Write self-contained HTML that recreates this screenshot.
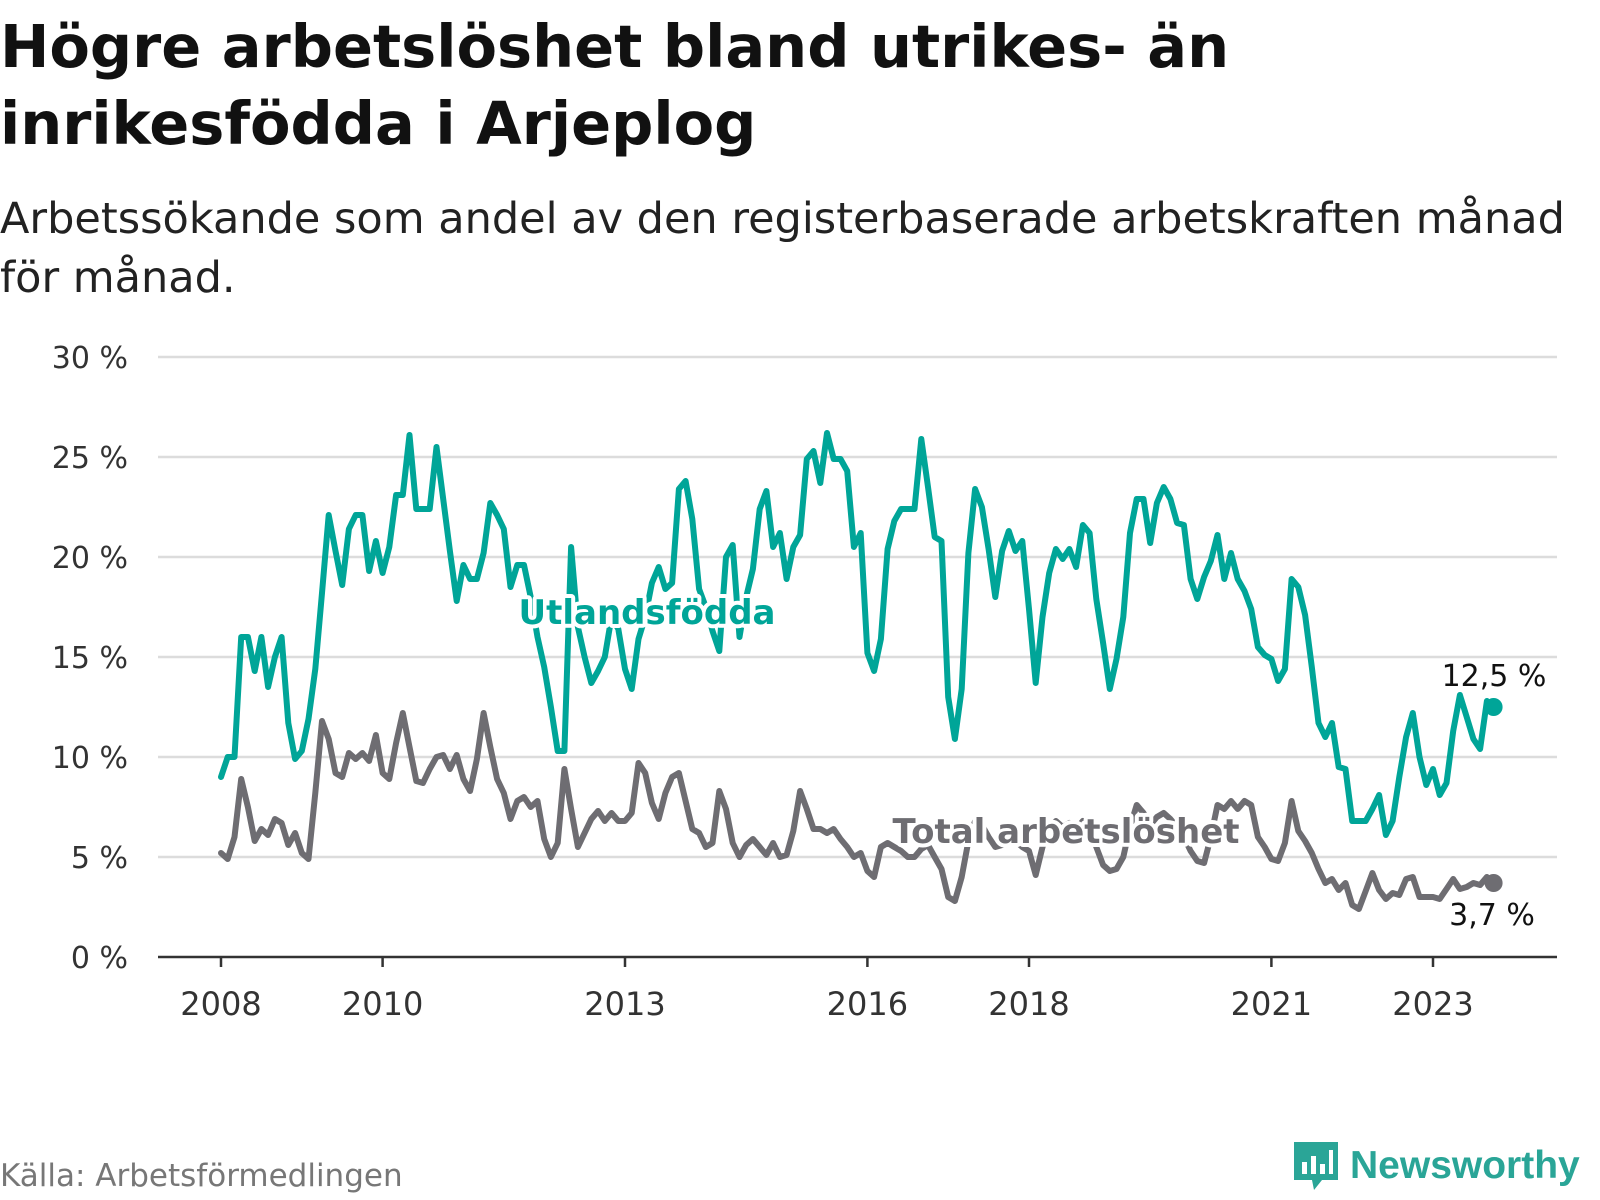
<!DOCTYPE html>
<html><head><meta charset="utf-8">
<style>
html,body{margin:0;padding:0;background:#fff;}
body{width:1600px;height:1200px;overflow:hidden;position:relative;font-family:"DejaVu Sans","Liberation Sans",sans-serif;}
.title{position:absolute;left:0;top:8px;font-size:59px;font-weight:bold;line-height:77px;color:#111;margin:0;}
.sub{position:absolute;left:0;top:190px;font-size:43px;line-height:59px;color:#222;margin:0;}
.src{position:absolute;left:0;top:1158px;font-size:31px;color:#777;}
.logo{position:absolute;left:1292px;top:1140px;display:flex;align-items:center;gap:10px;color:#2aa597;font-weight:bold;font-size:39px;font-family:"Liberation Sans",sans-serif;}
</style></head>
<body>
<h1 class="title">Högre arbetslöshet bland utrikes- än<br>inrikesfödda i Arjeplog</h1>
<p class="sub">Arbetssökande som andel av den registerbaserade arbetskraften månad<br>för månad.</p>
<svg id="chart" width="1600" height="1200" style="position:absolute;left:0;top:0" xmlns="http://www.w3.org/2000/svg"></svg>
<div class="src">Källa: Arbetsförmedlingen</div>
<div class="logo">
<svg width="48" height="52" viewBox="0 0 48 52"><path d="M2 2h44v38H30l-8 10-2-10H2z" fill="#2aa597"/><rect x="10" y="22" width="5" height="12" fill="#fff"/><rect x="19" y="16" width="5" height="18" fill="#fff"/><rect x="28" y="24" width="5" height="10" fill="#fff"/><rect x="37" y="10" width="4" height="24" fill="#fff"/></svg>
<span>Newsworthy</span></div>
<script>
const yTicks=[0,5,10,15,20,25,30];
const xTickYears=[2008,2010,2013,2016,2018,2021,2023];
const startYear=2008;
const foreign=[9.0,10.0,10.0,16.0,16.0,14.3,16.0,13.5,15.0,16.0,11.7,9.9,
10.3,11.9,14.4,18.2,22.1,20.3,18.6,21.4,22.1,22.1,19.3,20.8,
19.2,20.5,23.1,23.1,26.1,22.4,22.4,22.4,25.5,22.9,20.3,17.8,
19.6,18.9,18.9,20.2,22.7,22.1,21.4,18.5,19.6,19.6,18.0,16.0,
14.5,12.5,10.3,10.3,20.5,16.5,15.0,13.7,14.3,15.0,17.0,16.4,
14.4,13.4,15.9,17.0,18.7,19.5,18.4,18.7,23.4,23.8,21.9,18.4,
17.5,16.3,15.3,20.0,20.6,16.0,18.0,19.4,22.4,23.3,20.5,21.2,
18.9,20.5,21.1,24.9,25.3,23.7,26.2,24.9,24.9,24.3,20.5,21.2,
15.2,14.3,15.9,20.4,21.8,22.4,22.4,22.4,25.9,23.5,21.0,20.8,
13.0,10.9,13.4,20.2,23.4,22.5,20.4,18.0,20.3,21.3,20.3,20.8,
17.4,13.7,17.0,19.2,20.4,19.9,20.4,19.5,21.6,21.2,17.9,15.7,
13.4,14.9,17.0,21.2,22.9,22.9,20.7,22.7,23.5,22.9,21.7,21.6,
18.9,17.9,19.0,19.8,21.1,18.9,20.2,18.9,18.3,17.4,15.5,15.1,
14.9,13.8,14.4,18.9,18.5,17.1,14.5,11.7,11.0,11.7,9.5,9.4,
6.8,6.8,6.8,7.4,8.1,6.1,6.8,9.0,11.0,12.2,10.0,8.6,
9.4,8.1,8.7,11.3,13.1,12.0,10.9,10.4,12.8,12.5];
const total=[5.2,4.9,6.0,8.9,7.5,5.8,6.4,6.1,6.9,6.7,5.6,6.2,
5.2,4.9,8.2,11.8,10.9,9.2,9.0,10.2,9.9,10.2,9.8,11.1,
9.2,8.9,10.7,12.2,10.5,8.8,8.7,9.4,10.0,10.1,9.4,10.1,
8.9,8.3,9.9,12.2,10.5,8.9,8.2,6.9,7.8,8.0,7.5,7.8,
5.9,5.0,5.7,9.4,7.4,5.5,6.2,6.9,7.3,6.8,7.2,6.8,
6.8,7.2,9.7,9.2,7.7,6.9,8.2,9.0,9.2,7.8,6.4,6.2,
5.5,5.7,8.3,7.4,5.7,5.0,5.6,5.9,5.5,5.1,5.7,5.0,
5.1,6.3,8.3,7.4,6.4,6.4,6.2,6.4,5.9,5.5,5.0,5.2,
4.3,4.0,5.5,5.7,5.5,5.3,5.0,5.0,5.4,5.6,5.0,4.4,
3.0,2.8,4.0,5.8,6.8,6.6,6.0,5.5,5.6,6.2,5.8,5.5,
5.3,4.1,5.5,6.4,6.8,6.5,6.7,6.4,6.8,6.6,5.5,4.6,
4.3,4.4,5.0,6.5,7.6,7.2,6.6,7.0,7.2,6.9,6.5,6.0,
5.3,4.8,4.7,6.0,7.6,7.4,7.8,7.4,7.8,7.6,6.0,5.5,
4.9,4.8,5.7,7.8,6.3,5.8,5.2,4.4,3.7,3.9,3.35,3.7,
2.6,2.4,3.3,4.2,3.35,2.9,3.2,3.1,3.9,4.0,3.0,3.0,
3.0,2.9,3.4,3.9,3.4,3.5,3.7,3.6,4.0,3.7];
const lastForeignLabel="12,5 %";
const lastTotalLabel="3,7 %";

const NS="http://www.w3.org/2000/svg";
const FONT="DejaVu Sans, Liberation Sans, sans-serif";
const svg=document.getElementById('chart');
const X0=221, PX_YEAR=80.8, Y0=957, PX_UNIT=20, XL=158, XR=1557;
function xScale(monthIndex){return X0+monthIndex*PX_YEAR/12;}
function yScale(v){return Y0-v*PX_UNIT;}
function mk(tag,attrs){const e=document.createElementNS(NS,tag);for(const k in attrs)e.setAttribute(k,attrs[k]);return e;}

yTicks.forEach(t=>{
  if(t>0){const g=mk('line',{x1:XL,x2:XR,y1:yScale(t),y2:yScale(t),stroke:'#dcdcdc','stroke-width':2.5});
  
  
  svg.appendChild(g);}
  const l=mk('text',{x:128,y:yScale(t)+11,'text-anchor':'end','font-size':30,fill:'#333','font-family':FONT});
  l.textContent=t+' %';
  
  
  svg.appendChild(l);
});
const ax=mk('line',{x1:XL,x2:XR,y1:Y0,y2:Y0,stroke:'#333','stroke-width':2.5});


svg.appendChild(ax);
xTickYears.forEach(yr=>{
  const x=xScale((yr-startYear)*12);
  const tk=mk('line',{x1:x,x2:x,y1:Y0,y2:Y0+10,stroke:'#333','stroke-width':2.5});
  
  
  svg.appendChild(tk);
  const l=mk('text',{x:x,y:Y0+58,'text-anchor':'middle','font-size':32,fill:'#333','font-family':FONT});
  l.textContent=yr;
  
  
  svg.appendChild(l);
});
function drawLine(arr,color,name){
  const d=arr.map((v,i)=>(i?'L':'M')+xScale(i).toFixed(1)+' '+yScale(v).toFixed(1)).join(' ');
  const p=mk('path',{d:d,fill:'none',stroke:color,'stroke-width':6,'stroke-linejoin':'round','stroke-linecap':'round'});
  
  
  svg.appendChild(p);
  const n=arr.length-1;
  const c=mk('circle',{cx:xScale(n),cy:yScale(arr[n]),r:9,fill:color});
  
  
  svg.appendChild(c);
}
drawLine(total,'#6e6d72','total-line');
drawLine(foreign,'#00a598','foreign-line');
function label(txt,x,y,color,size,bold,name,anchor){
  const t=mk('text',{x:x,y:y,'text-anchor':anchor||'middle','font-size':size,fill:color,'font-weight':bold?'bold':'normal',stroke:'#fff','stroke-width':bold?8:6,'paint-order':'stroke','stroke-linejoin':'round','font-family':FONT});
  t.textContent=txt;
  
  
  svg.appendChild(t);
}
label('Utlandsfödda',647,624,'#00a598',34,true,'foreign-series-label');
label('Total arbetslöshet',1066,843,'#6e6d72',34,true,'total-series-label');
label(lastForeignLabel,1494,686,'#111',30,false,'foreign-last-value');
label(lastTotalLabel,1492,925,'#111',30,false,'total-last-value');
</script>
</body></html>
